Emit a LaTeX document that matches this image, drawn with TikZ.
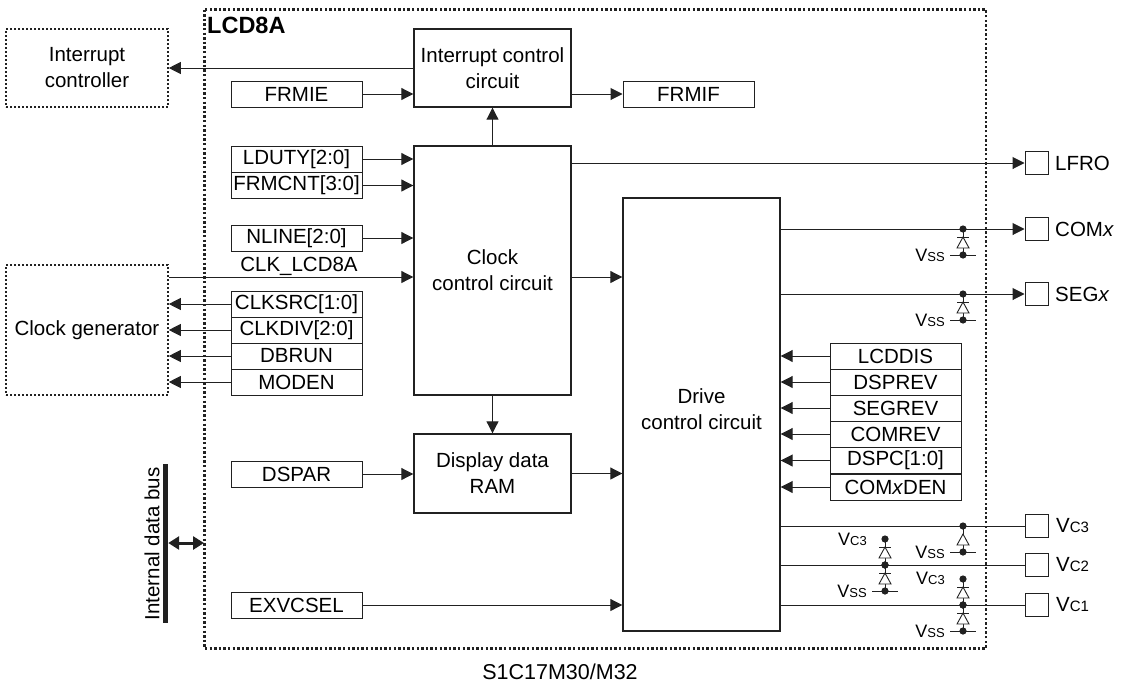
\documentclass[tikz,border=0pt]{standalone}
\usepackage{fontspec}
\setmainfont{Liberation Sans}
\usetikzlibrary{arrows.meta}

\definecolor{inkcol}{gray}{0.13}
\newcommand{\vsstext}{\fontsize{18}{18}\selectfont V{\fontsize{13}{13}\selectfont SS}}
\newcommand{\vctext}{\fontsize{18}{18}\selectfont V{\fontsize{13}{13}\selectfont C3}}
\newcommand{\vpintext}[1]{V{\fontsize{15}{15}\selectfont C#1}}

\tikzset{
  block/.style={draw=inkcol,line width=1.4pt,minimum width=157pt,align=center,inner sep=0pt,text=black},
  regbox/.style={draw=inkcol,line width=1pt,minimum width=131pt,minimum height=26pt,inner sep=0pt,text=black},
  pinbox/.style={draw=inkcol,line width=1pt,minimum width=23pt,minimum height=23pt,inner sep=0pt},
  outer/.style={draw=inkcol,line width=1.6pt,dash pattern=on 1.8pt off 2.2pt,minimum width=162pt,align=center,inner sep=0pt},
  sig/.style={draw=inkcol,line width=1pt,-{Triangle[length=12pt,width=12pt]}},
  wire/.style={draw=inkcol,line width=1pt},
  txt/.style={inner sep=0pt,text=black},
  diodeplain/.pic={
    \draw[wire] (0,0) -- (0,26);
    \draw[wire,line width=0.9pt,fill=white] (0,8) -- (-6,19) -- (6,19) -- cycle;
    \fill[inkcol] (0,0) circle[radius=3.6pt];
    \fill[inkcol] (0,26) circle[radius=3.6pt];
    \draw[wire,line width=0.9pt] (-13,26) -- (13,26);
  },
  diode/.pic={
    \pic {diodeplain};
    \draw[wire] (-6,8) -- (6,8);
  }
}

\begin{document}
\begin{tikzpicture}[x=1pt,y=-1pt,font=\fontsize{20.5}{26}\selectfont]
  \useasboundingbox (0,0) rectangle (1126,683);

  % outer frames
  \draw[draw=inkcol,line width=2.4pt,dash pattern=on 2.4pt off 2.2pt] (204.5,9.5) rectangle (986,648.5);
  \node[txt,anchor=west,font=\fontsize{23.5}{26}\selectfont\bfseries] (lcdtitle) at (207,25) {LCD8A};
  \node[outer,minimum height=78pt] (intcontroller) at (87,68) {Interrupt\\controller};
  \node[outer,minimum height=130pt] (clockgen) at (87,330) {Clock generator};

  % circuits
  \node[block,minimum height=78pt] (intcircuit) at (492.5,68) {Interrupt control\\circuit};
  \node[block,minimum height=249pt] (clockcircuit) at (492.5,270.5) {Clock\\control circuit};
  \node[block,minimum height=79pt] (ramcircuit) at (492.5,473.5) {Display data\\RAM};
  \node[block,minimum height=433pt] (drivecircuit) at (701.5,414.5) {};
  \node[txt,align=center] (drivetext) at (701.5,409.5) {Drive\\control circuit};

  % registers
  \node[regbox] (frmie) at (296.5,94) {FRMIE};
  \node[regbox] (frmif) at (688.5,94) {FRMIF};
  \node[regbox] (lduty) at (296.5,159) {LDUTY[2:0]};
  \node[regbox] (frmcnt) at (296.5,185.5) {FRMCNT[3:0]};
  \node[regbox] (nline) at (296.5,238) {NLINE[2:0]};
  \node[regbox] (clksrc) at (296.5,304) {CLKSRC[1:0]};
  \node[regbox] (clkdiv) at (296.5,330) {CLKDIV[2:0]};
  \node[regbox] (dbrun) at (296.5,356) {DBRUN};
  \node[regbox] (moden) at (296.5,382) {MODEN};
  \node[regbox] (dspar) at (296.5,474) {DSPAR};
  \node[regbox] (exvcsel) at (296.5,605) {EXVCSEL};

  \node[regbox] (lcddis) at (895.5,356) {LCDDIS};
  \node[regbox] (dsprev) at (895.5,382) {DSPREV};
  \node[regbox] (segrev) at (895.5,408) {SEGREV};
  \node[regbox] (comrev) at (895.5,434) {COMREV};
  \node[regbox] (dspc) at (895.5,460.5) {DSPC[1:0]};
  \node[regbox] (comxden) at (895.5,487) {COM\textit{x}DEN};

  % pins
  \node[pinbox] (lfro) at (1036.5,163) {};
  \node[pinbox] (comx) at (1036.5,229) {};
  \node[pinbox] (segx) at (1036.5,294) {};
  \node[pinbox] (vc3) at (1036.5,526) {};
  \node[pinbox] (vc2) at (1036.5,565) {};
  \node[pinbox] (vc1) at (1036.5,605) {};
  \node[txt,anchor=west] (lfrotext) at (1055,163) {LFRO};
  \node[txt,anchor=west] (comxtext) at (1055,229) {COM\textit{x}};
  \node[txt,anchor=west] (segxtext) at (1055,294) {SEG\textit{x}};
  \node[txt,anchor=west] (vc3text) at (1056,526) {\vpintext{3}};
  \node[txt,anchor=west] (vc2text) at (1056,565) {\vpintext{2}};
  \node[txt,anchor=west] (vc1text) at (1056,605) {\vpintext{1}};

  % bus
  \node[fill=inkcol,minimum width=5pt,minimum height=159pt,inner sep=0pt] (busbar) at (165.5,543.5) {};
  \node[txt,rotate=90] (bustext) at (152,544) {Internal data bus};
  \coordinate (busport) at (204,543);
  \draw[draw=inkcol,line width=3pt,{Triangle[length=11pt,width=13pt]}-{Triangle[length=11pt,width=13pt]}] (busbar.east |- busport) -- (busport);

  \node[txt] (clktext) at (299,266) {CLK\_LCD8A};
  \node[txt,font=\fontsize{21.5}{26}\selectfont] (chiptext) at (560,672) {S1C17M30/M32};

  % signals
  \draw[sig] (intcircuit.west) -- (intcontroller.east);
  \draw[sig] (frmie) -- (frmie -| intcircuit.west);
  \draw[sig] (intcircuit.east |- frmif) -- (frmif);
  \draw[sig] (clockcircuit) -- (intcircuit);
  \draw[sig] (lduty) -- (lduty -| clockcircuit.west);
  \draw[sig] (frmcnt) -- (frmcnt -| clockcircuit.west);
  \draw[sig] (nline) -- (nline -| clockcircuit.west);
  \draw[sig] (clockgen.east |- clockcircuit.center) ++(0,6.5) coordinate (clkstart) -- (clkstart -| clockcircuit.west);
  \draw[sig] (clksrc) -- (clksrc -| clockgen.east);
  \draw[sig] (clkdiv) -- (clkdiv -| clockgen.east);
  \draw[sig] (dbrun) -- (dbrun -| clockgen.east);
  \draw[sig] (moden) -- (moden -| clockgen.east);
  \draw[sig] (clockcircuit.east) ++(0,6.5) coordinate (clockout) -- (clockout -| drivecircuit.west);
  \draw[sig] (clockcircuit) -- (ramcircuit);
  \draw[sig] (dspar) -- (dspar -| ramcircuit.west);
  \draw[sig] (ramcircuit) -- (ramcircuit -| drivecircuit.west);
  \draw[sig] (exvcsel) -- (exvcsel -| drivecircuit.west);

  \draw[sig] (lcddis) -- (lcddis -| drivecircuit.east);
  \draw[sig] (dsprev) -- (dsprev -| drivecircuit.east);
  \draw[sig] (segrev) -- (segrev -| drivecircuit.east);
  \draw[sig] (comrev) -- (comrev -| drivecircuit.east);
  \draw[sig] (dspc) -- (dspc -| drivecircuit.east);
  \draw[sig] (comxden) -- (comxden -| drivecircuit.east);

  \draw[sig] (lfro -| clockcircuit.east) -- (lfro);
  \draw[sig] (comx -| drivecircuit.east) -- (comx);
  \draw[sig] (segx -| drivecircuit.east) -- (segx);
  \draw[wire] (vc3 -| drivecircuit.east) -- (vc3);
  \draw[wire] (vc2 -| drivecircuit.east) -- (vc2);
  \draw[wire] (vc1 -| drivecircuit.east) -- (vc1);

  % protection diodes
  \pic at (963,229) {diode};
  \pic at (963,294) {diode};
  \pic at (963,526) {diodeplain};
  \pic at (885,539) {diode};
  \pic at (885,565) {diode};
  \pic at (963,579) {diode};
  \pic at (963,605) {diode};

  \node[txt,anchor=east] (vssa) at (945,255) {\vsstext};
  \node[txt,anchor=east] (vssb) at (945,320) {\vsstext};
  \node[txt,anchor=east] (vssc) at (945,552) {\vsstext};
  \node[txt,anchor=east] (vssd) at (867,591) {\vsstext};
  \node[txt,anchor=east] (vsse) at (945,631) {\vsstext};
  \node[txt,anchor=east] (vcca) at (867,539) {\vctext};
  \node[txt,anchor=east] (vccb) at (945,578) {\vctext};
\end{tikzpicture}
\end{document}
